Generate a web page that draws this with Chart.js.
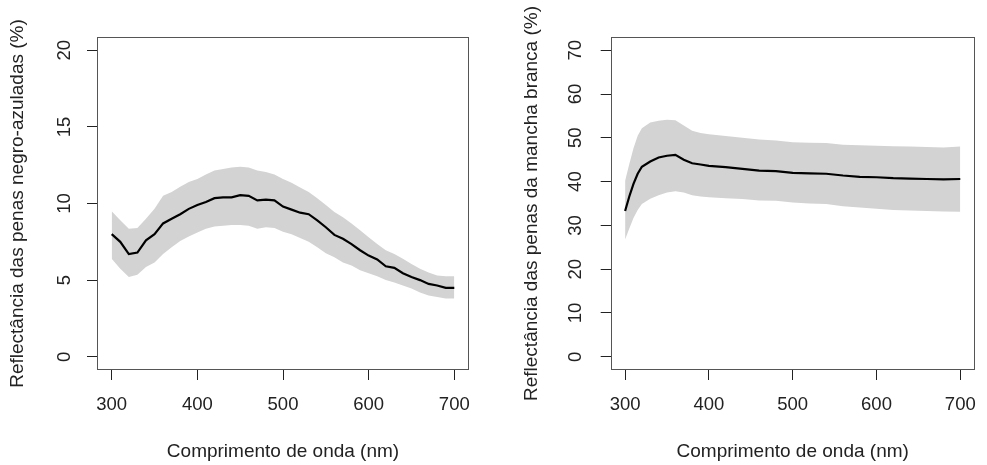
<!DOCTYPE html>
<html>
<head>
<meta charset="utf-8">
<script src="https://cdn.jsdelivr.net/npm/chart.js@4.4.1/dist/chart.umd.min.js"></script>
<style>
  body { margin: 0; background: #fff; }
  canvas { position: absolute; top: 0; }
  #c1 { left: 0; }
  #c2 { left: 494px; }
</style>
</head>
<body>
<canvas id="c1" width="494" height="465"></canvas>
<canvas id="c2" width="493" height="465"></canvas>
<script>
// wavelengths (nm)
const waveBlack = [300, 310, 320, 330, 340, 350, 360, 370, 380, 390, 400, 410, 420, 430, 440, 450, 460, 470, 480, 490,
  500, 510, 520, 530, 540, 550, 560, 570, 580, 590, 600, 610, 620, 630, 640, 650, 660, 670, 680, 690, 700];
const meanBlack = [8.0, 7.5, 6.7, 6.8, 7.6, 8.0, 8.7, 9.0, 9.3, 9.65, 9.9, 10.1, 10.35, 10.4, 10.4, 10.55, 10.5, 10.2, 10.25, 10.2,
  9.8, 9.6, 9.4, 9.3, 8.9, 8.45, 7.95, 7.7, 7.35, 6.95, 6.6, 6.35, 5.9, 5.8, 5.45, 5.2, 5.0, 4.75, 4.65, 4.5, 4.5];
const upperBlack = [9.5, 8.9, 8.35, 8.4, 9.0, 9.65, 10.5, 10.75, 11.1, 11.4, 11.6, 11.9, 12.15, 12.25, 12.35, 12.4, 12.35, 12.15, 12.05, 11.9,
  11.6, 11.35, 11.05, 10.75, 10.35, 9.9, 9.45, 9.1, 8.7, 8.25, 7.8, 7.35, 6.95, 6.7, 6.4, 6.05, 5.75, 5.5, 5.3, 5.25, 5.25];
const lowerBlack = [6.4, 5.75, 5.2, 5.35, 5.85, 6.15, 6.7, 7.15, 7.55, 7.85, 8.1, 8.35, 8.5, 8.55, 8.6, 8.6, 8.55, 8.35, 8.45, 8.4,
  8.15, 8.0, 7.75, 7.5, 7.15, 6.75, 6.5, 6.15, 5.95, 5.65, 5.45, 5.25, 5.0, 4.85, 4.65, 4.45, 4.2, 4.0, 3.9, 3.8, 3.8];

const waveWhite = [300, 305, 310, 315, 320, 330, 340, 350, 360, 370, 380, 390, 400, 420, 440, 460, 480,
  500, 520, 540, 560, 580, 600, 620, 640, 660, 680, 700];
const meanWhite = [33.3, 36.6, 39.5, 41.8, 43.4, 44.6, 45.5, 45.9, 46.1, 45.0, 44.2, 43.9, 43.6, 43.3, 42.9, 42.5, 42.4,
  42.0, 41.9, 41.8, 41.4, 41.1, 41.0, 40.8, 40.7, 40.6, 40.5, 40.6];
const upperWhite = [40.2, 44.0, 47.6, 50.5, 52.2, 53.5, 53.9, 54.1, 54.0, 52.8, 51.6, 51.1, 50.8, 50.4, 50.0, 49.6, 49.4,
  49.0, 48.9, 48.8, 48.4, 48.3, 48.2, 48.1, 48.0, 47.9, 47.8, 48.0];
const lowerWhite = [26.8, 29.3, 31.7, 33.5, 34.9, 36.1, 36.9, 37.5, 37.8, 37.5, 36.9, 36.6, 36.4, 36.2, 36.0, 35.7, 35.6,
  35.2, 35.0, 34.9, 34.4, 34.1, 33.8, 33.5, 33.4, 33.3, 33.2, 33.1];

const xTitle = 'Comprimento de onda (nm)';

Chart.defaults.font.family = '"Liberation Sans", Arial, sans-serif';
Chart.defaults.color = '#222';

// box round the plot region, like R's box()
const frame = {
  id: 'frame',
  afterDraw(chart) {
    const { ctx, chartArea: a } = chart;
    ctx.save();
    ctx.strokeStyle = '#555';
    ctx.lineWidth = 1;
    ctx.strokeRect(Math.round(a.left) - 0.5, Math.round(a.top) - 0.5,
      Math.round(a.right - a.left) + 1, Math.round(a.bottom - a.top) + 1);
    ctx.restore();
  }
};

const pts = (xs, ys) => xs.map((x, i) => ({ x: x, y: ys[i] }));

const makeChart = (id, wave, mean, upper, lower, yMax, yStep, yTitle, lay) => {
  const pad = yMax * 0.04;
  new Chart(document.getElementById(id), {
    type: 'line',
    data: {
      datasets: [
        { data: pts(wave, mean), borderColor: '#000', borderWidth: 2.2, pointRadius: 0, tension: 0, fill: false },
        { data: pts(wave, upper), borderWidth: 0, borderColor: 'rgba(0,0,0,0)', pointRadius: 0, tension: 0,
          backgroundColor: '#d3d3d3', fill: '+1' },
        { data: pts(wave, lower), borderWidth: 0, borderColor: 'rgba(0,0,0,0)', pointRadius: 0, tension: 0, fill: false }
      ]
    },
    options: {
      responsive: false,
      animation: false,
      layout: { padding: { top: 38, left: lay.left, right: lay.right, bottom: 0 } },
      plugins: { legend: { display: false }, tooltip: { enabled: false }, filler: { drawTime: 'beforeDatasetsDraw' } },
      scales: {
        x: {
          type: 'linear', min: 284, max: 716,
          ticks: { stepSize: 100, includeBounds: false, padding: 14, font: { size: 18.5 }, color: '#222', maxRotation: 0 },
          grid: { drawOnChartArea: false, tickLength: 11, color: '#222' },
          border: { display: false },
          title: { display: true, text: xTitle, font: { size: 19 }, color: '#222', padding: { top: 2, bottom: 2 } },
          afterFit: (s) => { s.height = 96; s.paddingLeft = 0; s.paddingRight = 0; }
        },
        y: {
          min: -pad, max: yMax + pad,
          ticks: { stepSize: yStep, includeBounds: false, minRotation: 90, maxRotation: 90, crossAlign: 'center',
            padding: lay.tickPad, font: { size: 18.5 }, color: '#222' },
          grid: { drawOnChartArea: false, tickLength: 11, color: '#222' },
          border: { display: false },
          title: { display: true, text: yTitle, font: { size: 19 }, color: '#222', padding: { top: 6.6, bottom: 0 } },
          afterFit: (s) => { s.width = lay.yWidth; s.paddingTop = 0; s.paddingBottom = 0; }
        }
      }
    },
    plugins: [frame]
  });
};

makeChart('c1', waveBlack, meanBlack, upperBlack, lowerBlack, 20, 5,
  'Reflectância das penas negro-azuladas (%)', { left: 0, right: 26, yWidth: 98, tickPad: 11.7 });
makeChart('c2', waveWhite, meanWhite, upperWhite, lowerWhite, 70, 10,
  'Reflectância das penas da mancha branca (%)', { left: 20, right: 13.3, yWidth: 97.7, tickPad: 14.4 });
</script>
</body>
</html>
